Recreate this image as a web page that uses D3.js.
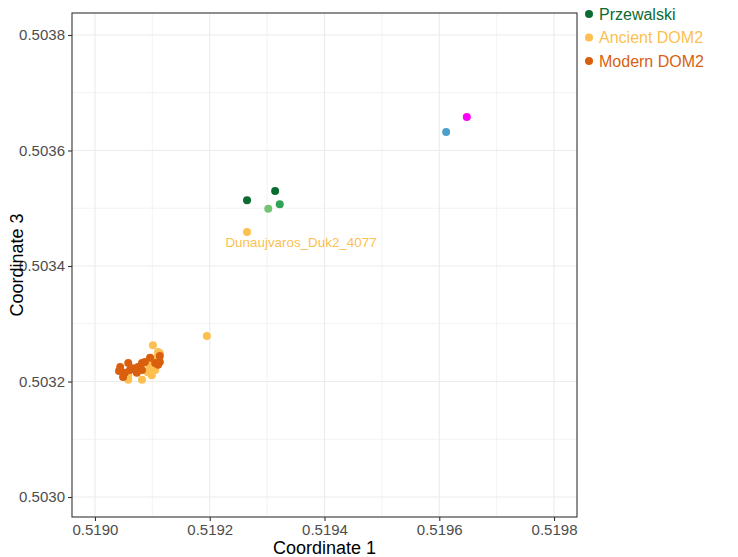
<!DOCTYPE html>
<html><head><meta charset="utf-8">
<script src="https://cdn.jsdelivr.net/npm/d3@7"></script>
<style>body{margin:0;background:#fff}svg{display:block;font-family:"Liberation Sans",Arial,sans-serif}</style>
</head><body>
<svg id="c" width="738" height="557"></svg>
<script>
const xTicks = [0.5190, 0.5192, 0.5194, 0.5196, 0.5198];
const yTicks = [0.5030, 0.5032, 0.5034, 0.5036, 0.5038];
const xTickLabels = ["0.5190","0.5192","0.5194","0.5196","0.5198"];
const yTickLabels = ["0.5030","0.5032","0.5034","0.5036","0.5038"];

const groups = ["Early Przewalski","Przewalski","Ancient DOM2","Modern DOM2"];
const groupColors = ["#0b6b30","#0b6b30","#fdbf4f","#d95f0e"];

const modernX = [0.519044,0.519058,0.519061,0.519052,0.519049,0.519066,0.519075,0.519082,0.519087,0.519096,0.519105,0.519113,0.519110,0.519082,0.519073,0.519042,0.519113];
const modernY = [0.503225,0.503232,0.503220,0.503215,0.503208,0.503223,0.503225,0.503232,0.503234,0.503241,0.503232,0.503234,0.503229,0.503220,0.503215,0.503218,0.503244];

const ancientX = [0.519101,0.519110,0.519113,0.519058,0.519082,0.519099,0.519096,0.519105,0.519091,0.519099,0.519108,0.519058,0.519101,0.519092,0.519195,0.519265];
const ancientY = [0.503263,0.503251,0.503249,0.503203,0.503203,0.503211,0.503223,0.503220,0.503232,0.503237,0.503242,0.503211,0.503227,0.503216,0.503279,0.503459];

const przX = [0.519265,0.519314];
const przY = [0.503514,0.503530];

const otherX = [0.519322,0.519302,0.519612,0.519648];
const otherY = [0.503507,0.503499,0.503632,0.503658];
const otherColors = ["#31a354","#74c476","#4a9fcb","#ff00ff"];

const labelText = "Dunaujvaros_Duk2_4077";
const labelIndex = 15;

const svg = d3.select("#c");
const L = 72, R = 577, T = 13, B = 517;
const x = d3.scaleLinear().domain([0.518960, 0.519840]).range([L, R]);
const y = d3.scaleLinear().domain([0.5029654, 0.5038381]).range([B, T]);

const xMinor = d3.range(0, 5).map(i => 0.5189 + 0.0002 * i).filter(v => v > 0.51896 && v < 0.51984);
const yMinor = d3.range(0, 5).map(i => 0.5029 + 0.0002 * i).filter(v => v > 0.5029654 && v < 0.5038381);

const g = svg.append("g");
g.selectAll(".xm").data(xMinor).join("line").attr("x1", d => x(d)).attr("x2", d => x(d)).attr("y1", T).attr("y2", B).attr("stroke", "#ebebeb").attr("stroke-width", 0.6);
g.selectAll(".ym").data(yMinor).join("line").attr("y1", d => y(d)).attr("y2", d => y(d)).attr("x1", L).attr("x2", R).attr("stroke", "#ebebeb").attr("stroke-width", 0.6);
g.selectAll(".xM").data(xTicks).join("line").attr("x1", d => x(d)).attr("x2", d => x(d)).attr("y1", T).attr("y2", B).attr("stroke", "#ebebeb").attr("stroke-width", 1.1);
g.selectAll(".yM").data(yTicks).join("line").attr("y1", d => y(d)).attr("y2", d => y(d)).attr("x1", L).attr("x2", R).attr("stroke", "#ebebeb").attr("stroke-width", 1.1);

const xAxis = d3.axisBottom(x).tickValues(xTicks).tickFormat((d, i) => xTickLabels[i]).tickSize(4).tickPadding(3).tickSizeOuter(0);
const yAxis = d3.axisLeft(y).tickValues(yTicks).tickFormat((d, i) => yTickLabels[i]).tickSize(4).tickPadding(3).tickSizeOuter(0);
const gx = svg.append("g").attr("transform", `translate(0,${B})`).call(xAxis);
const gy = svg.append("g").attr("transform", `translate(${L},0)`).call(yAxis);
[gx, gy].forEach(a => {
  a.select(".domain").remove();
  a.selectAll(".tick line").attr("stroke", "#333").attr("stroke-width", 1.1);
  a.selectAll(".tick text").attr("fill", "#4d4d4d").style("font-size", "15px").style("font-family", '"Liberation Sans",Arial,sans-serif');
});

const pts = svg.append("g");
function drawPts(xs, ys, col, r) {
  pts.selectAll(null).data(xs.map((v, i) => [v, ys[i]])).join("circle")
    .attr("cx", d => x(d[0])).attr("cy", d => y(d[1])).attr("r", r)
    .attr("fill", typeof col === "function" ? col : () => col);
}
drawPts(ancientX, ancientY, groupColors[2], 4);
drawPts(modernX, modernY, groupColors[3], 4);
drawPts(przX, przY, groupColors[1], 4);
drawPts(otherX, otherY, (d, i) => otherColors[i], 4);

svg.append("text").attr("x", x(ancientX[labelIndex]) + 54).attr("y", y(ancientY[labelIndex]) + 15)
  .attr("text-anchor", "middle").attr("fill", groupColors[2]).style("font-size", "13.4px").text(labelText);

svg.append("rect").attr("x", L).attr("y", T).attr("width", R - L).attr("height", B - T)
  .attr("fill", "none").attr("stroke", "#333").attr("stroke-width", 1.1);

svg.append("text").attr("x", (L + R) / 2).attr("y", 554).attr("text-anchor", "middle")
  .attr("fill", "#000").style("font-size", "18px").text("Coordinate 1");
svg.append("text").attr("transform", `translate(23,${(T + B) / 2}) rotate(-90)`).attr("text-anchor", "middle")
  .attr("fill", "#000").style("font-size", "18px").text("Coordinate 3");

const leg = svg.append("g");
groups.forEach((gname, i) => {
  const cy = 14 + (i - 1) * 23.5;
  leg.append("circle").attr("cx", 589).attr("cy", cy).attr("r", 4).attr("fill", groupColors[i]);
  leg.append("text").attr("x", 599).attr("y", cy + 5.5).attr("fill", groupColors[i]).style("font-size", "16px").text(gname);
});
</script>
</body></html>
